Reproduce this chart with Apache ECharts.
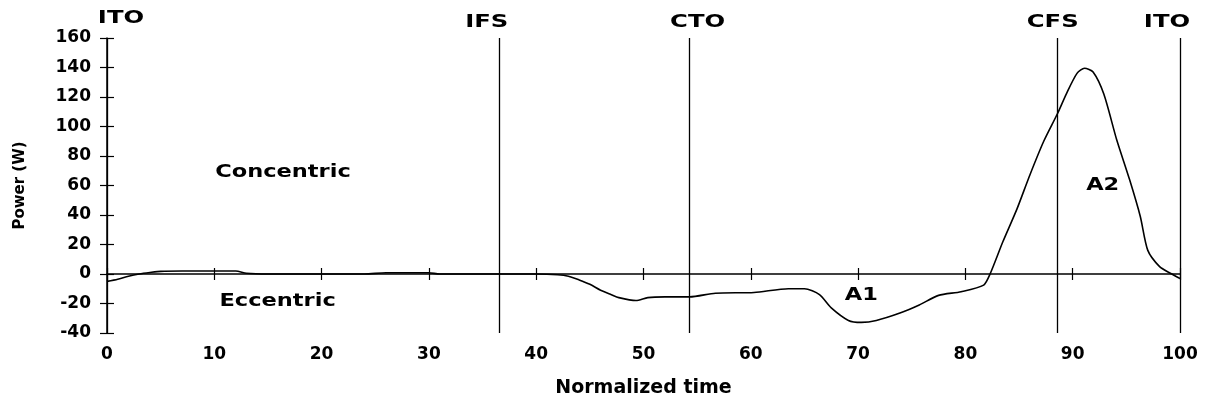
<!DOCTYPE html>
<html><head><meta charset="utf-8">
<script src="https://cdn.jsdelivr.net/npm/echarts@6/dist/echarts.min.js"></script>
<style>html,body{margin:0;padding:0;background:#fff}#c{width:1207px;height:404px}</style>
</head><body><div id="c"></div>
<script>
// Normalized time (%) and power (W)
const timeValues = [0,1,2,3,4,5,7,10,12,13,15,20,24,26,30,31,35,40,42,43,44,45,46,47,47.7,49.3,50.4,52,54.3,56.7,60.3,63.5,65,66.4,67.5,69.1,70.3,71.7,73.9,75.7,77.5,79.6,81.7,82.3,83.5,84.8,86,87.3,88.6,89.4,90.4,91.1,91.9,92.9,94.1,95.3,96.3,97,98.1,99.1,100];
const powerValues = [-5,-3.5,-1.5,0,1,1.8,2,2,2,0.5,0,0,0,0.8,0.8,0,0,0,-0.5,-1.5,-4,-7,-11,-14,-16,-18,-16,-15.5,-15.5,-13,-12.5,-10,-10,-14,-23,-31.5,-32.8,-31.5,-26.5,-21,-14.5,-12,-7.5,0,22,44,67,90,109,122,136,139.5,137,122,91,64,39,16,5,0.5,-3];
const eventNames = ['ITO','IFS','CTO','CFS','ITO'];
const eventTimes = [0,36.6,54.3,88.6,100];
const annotationTexts = ['Concentric','Eccentric','A1','A2'];
const annotationTimes = [16.4,15.9,70.3,92.8];
const annotationPowers = [69,-18.3,-14.2,60.3];
const xMin = 0, xMax = 100, xStep = 10;
const yMin = -40, yMax = 160, yStep = 20;

// layout (pixel nudges of the event labels relative to their line tops)
const eventLabelDx = [14,-13,8,-5,-13];
const eventLabelDy = [-20,-16,-16,-16,-16];

const seriesData = timeValues.map((t,i)=>[t, powerValues[i]]);
const FONT = '"DejaVu Sans", Verdana, sans-serif';
const gridPos = {left:107, right:27, top:38, bottom:71};

const chart = echarts.init(document.getElementById('c'));
chart.setOption({
  backgroundColor:'#fff',
  animation:false,
  grid:[Object.assign({}, gridPos), Object.assign({}, gridPos)],
  xAxis:[
    {gridIndex:0, type:'value', position:'bottom', min:xMin, max:xMax, interval:xStep,
     axisLine:{show:false, onZero:false}, axisTick:{show:false}, splitLine:{show:false},
     axisLabel:{color:'#000', fontFamily:FONT, fontWeight:'bold', fontSize:17, margin:13},
     name:'Normalized time', nameLocation:'middle', nameGap:46,
     nameTextStyle:{color:'#000', fontFamily:FONT, fontWeight:'bold', fontSize:19}},
    {gridIndex:0, type:'value', position:'top', min:xMin, max:xMax, interval:xStep,
     axisLine:{show:true, onZero:true, lineStyle:{color:'#000', width:1.5}},
     axisTick:{show:true, inside:false, length:6, lineStyle:{color:'#000', width:1.2}},
     axisLabel:{show:false}, splitLine:{show:false}},
    {gridIndex:1, type:'value', position:'top', min:xMin, max:xMax, interval:xStep,
     axisLine:{show:false, onZero:true},
     axisTick:{show:true, inside:true, length:6, lineStyle:{color:'#000', width:1.2}},
     axisLabel:{show:false}, splitLine:{show:false}}
  ],
  yAxis:[
    {gridIndex:0, type:'value', min:yMin, max:yMax, interval:yStep,
     axisLine:{show:true, onZero:false, lineStyle:{color:'#000', width:1.5}},
     axisTick:{show:true, inside:false, length:7, lineStyle:{color:'#000', width:1.2}},
     axisLabel:{color:'#000', fontFamily:FONT, fontWeight:'bold', fontSize:17, margin:16},
     splitLine:{show:false},
     name:'Power (W)', nameLocation:'middle', nameGap:79, nameRotate:90,
     nameTextStyle:{color:'#000', fontFamily:FONT, fontWeight:'bold', fontSize:15}},
    {gridIndex:1, type:'value', min:yMin, max:yMax, interval:yStep,
     axisLine:{show:false, onZero:false},
     axisTick:{show:true, inside:true, length:7, lineStyle:{color:'#000', width:1.2}},
     axisLabel:{show:false}, splitLine:{show:false}}
  ],
  series:[{
    type:'line', xAxisIndex:0, yAxisIndex:0, data:seriesData,
    smooth:0.25, showSymbol:false, symbol:'none',
    lineStyle:{color:'#000', width:1.6},
    markLine:{
      silent:true, symbol:['none','none'], animation:false,
      lineStyle:{color:'#000', width:1.3, type:'solid'},
      label:{show:false},
      data: eventTimes.map((t,i)=>({name:eventNames[i], xAxis:t}))
    }
  }]
});

function textEl(str, p, size, sx){
  return {type:'text', x:p[0], y:p[1], scaleX:sx, silent:true,
    style:{text:str, fill:'#000', fontFamily:'DejaVu Sans', fontWeight:'bold', fontSize:size,
           align:'center', verticalAlign:'middle'}};
}
const graphics = [];
eventTimes.forEach((t,i)=>{
  const p = chart.convertToPixel({gridIndex:0}, [t, yMax]);
  graphics.push(textEl(eventNames[i], [p[0]+eventLabelDx[i], p[1]+eventLabelDy[i]], 18, 1.35));
});
annotationTexts.forEach((s,i)=>{
  const p = chart.convertToPixel({gridIndex:0}, [annotationTimes[i], annotationPowers[i]]);
  graphics.push(textEl(s, p, 18, 1.25));
});
chart.setOption({graphic:graphics});
</script></body></html>
